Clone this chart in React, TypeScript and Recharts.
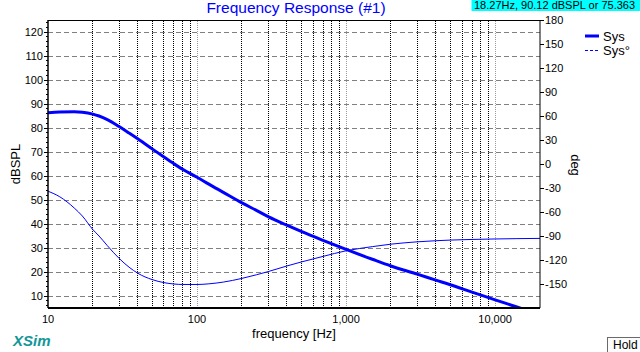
import React from 'react';
import { LineChart, Line, XAxis, YAxis, ReferenceLine } from 'recharts';

// frequency points (Hz) and the two traces
const freqs = [10, 12, 15, 17, 20, 22, 25, 30, 35, 40, 50, 60, 70, 80, 100, 120, 150, 200, 250, 300, 400, 500, 700, 1000, 1500, 2000, 3000, 4000, 5000, 7000, 10000, 14000, 20000];
const sysDb = [86.4, 86.7, 86.8, 86.6, 85.8, 85.0, 83.5, 80.6, 77.9, 75.5, 71.3, 67.9, 65.1, 62.8, 59.5, 56.6, 53.2, 48.8, 45.7, 43.1, 39.5, 36.9, 33.2, 29.4, 25.3, 22.5, 19.1, 16.6, 14.7, 11.6, 8.4, 5.4, 2.2];
const sysDeg = [-34, -41, -55, -65, -82, -90, -102, -118, -129, -136.5, -144.5, -148.3, -150, -150.6, -150.6, -149.8, -147.6, -143, -138.5, -134.5, -127.5, -122.5, -115.5, -108.5, -103.3, -100.2, -97.3, -95.9, -95.1, -94.3, -93.7, -93.3, -93];

const freqTicks = [10, 100, 1000, 10000];
const minorFreqGrid = [20, 30, 40, 50, 60, 70, 80, 90, 200, 300, 400, 500, 600, 700, 800, 900, 2000, 3000, 4000, 5000, 6000, 7000, 8000, 9000];
const decadeGrid = [100, 1000, 10000];
const dbGrid = [10, 20, 30, 40, 50, 60, 70, 80, 90, 100, 110, 120];
const dbAxisTicks = [6, 8, 10, 12, 14, 16, 18, 20, 22, 24, 26, 28, 30, 32, 34, 36, 38, 40, 42, 44, 46, 48, 50, 52, 54, 56, 58, 60, 62, 64, 66, 68, 70, 72, 74, 76, 78, 80, 82, 84, 86, 88, 90, 92, 94, 96, 98, 100, 102, 104, 106, 108, 110, 112, 114, 116, 118, 120, 122, 124];
const degTicks = [-150, -120, -90, -60, -30, 0, 30, 60, 90, 120, 150, 180];

const data = freqs.map((f, i) => ({ f, db: sysDb[i], deg: sysDeg[i] }));

const FONT = '"Liberation Sans", Arial, sans-serif';
const BLUE = '#0000ff';

const DbTick = ({ x, y, payload }: any) => {
  const v = payload.value;
  const major = v % 10 === 0;
  return (
    <g>
      <line x1={x - (major ? 4 : 2)} x2={x} y1={y} y2={y} stroke="#000" shapeRendering="crispEdges" />
      {major && (
        <text x={x - 5} y={y} dy={4} textAnchor="end" fontSize={11} fill="#000" fontFamily={FONT}>
          {v}
        </text>
      )}
    </g>
  );
};

const DegTick = ({ x, y, payload }: any) => (
  <g>
    <line x1={x} x2={x + 4} y1={y} y2={y} stroke="#000" shapeRendering="crispEdges" />
    <text x={x + 5} y={y} dy={4} textAnchor="start" fontSize={11} fill="#000" fontFamily={FONT}>
      {payload.value}
    </text>
  </g>
);

const FreqTick = ({ x, y, payload }: any) => (
  <text x={x} y={y} dy={15} textAnchor="middle" fontSize={11} fill="#000" fontFamily={FONT}>
    {payload.value.toLocaleString('en-US')}
  </text>
);

export default function App() {
  return (
    <div style={{ position: 'absolute', left: 0, top: 0, width: 640, height: 352, overflow: 'hidden', background: '#fff', fontFamily: FONT }}>
      <LineChart width={640} height={352} data={data} margin={{ top: 20, right: 40, bottom: 14, left: 8 }}>
        <XAxis
          dataKey="f"
          type="number"
          scale="log"
          domain={[10, 20000]}
          ticks={freqTicks}
          allowDataOverflow
          height={30}
          tickSize={0}
          tickMargin={0}
          interval={0}
          tick={(p: any) => <FreqTick {...p} />}
          axisLine={{ stroke: '#000', strokeWidth: 2 }}
          tickLine={false}
          xAxisId="f"
        />
        <YAxis
          yAxisId="db"
          orientation="left"
          domain={[5, 125]}
          ticks={dbAxisTicks}
          allowDataOverflow
          width={40}
          tickSize={0}
          tickMargin={0}
          interval={0}
          tick={(p: any) => <DbTick {...p} />}
          tickLine={false}
          axisLine={{ stroke: '#000', strokeWidth: 1.5 }}
        />
        <YAxis
          yAxisId="deg"
          orientation="right"
          domain={[-180, 180]}
          ticks={degTicks}
          allowDataOverflow
          width={60}
          tickSize={0}
          tickMargin={0}
          interval={0}
          tick={(p: any) => <DegTick {...p} />}
          tickLine={false}
          axisLine={{ stroke: '#000' }}
        />
        {minorFreqGrid.map((f) => (
          <ReferenceLine key={`v${f}`} x={f} xAxisId="f" yAxisId="db" stroke="#000" strokeDasharray="1 1" shapeRendering="crispEdges" />
        ))}
        {decadeGrid.map((f) => (
          <ReferenceLine key={`d${f}`} x={f} xAxisId="f" yAxisId="db" stroke="#9a9a9a" strokeDasharray="1 1" shapeRendering="crispEdges" />
        ))}
        {dbGrid.map((v) => (
          <ReferenceLine key={`h${v}`} y={v} xAxisId="f" yAxisId="db" stroke="#808080" strokeDasharray="5 3" shapeRendering="crispEdges" />
        ))}
        <ReferenceLine y={125} xAxisId="f" yAxisId="db" stroke="#000" shapeRendering="crispEdges" />
        <Line xAxisId="f" yAxisId="deg" dataKey="deg" type="monotone" stroke={BLUE} strokeWidth={1} dot={false} isAnimationActive={false} />
        <Line xAxisId="f" yAxisId="db" dataKey="db" type="monotone" stroke={BLUE} strokeWidth={3} dot={false} isAnimationActive={false} />
      </LineChart>

      <svg width={640} height={352} style={{ position: 'absolute', left: 0, top: 0, pointerEvents: 'none' }}>
        <text x={296} y={13} textAnchor="middle" fontSize={15.5} fill={BLUE} fontFamily={FONT}>
          Frequency Response (#1)
        </text>
        <rect x={471.5} y={0} width={170} height={11} fill="#00ffff" />
        <text x={474} y={8.5} fontSize={11} fill="#000" fontFamily={FONT}>
          18.27Hz, 90.12 dBSPL or 75.363
        </text>
        <text transform="translate(20,164) rotate(-90)" textAnchor="middle" fontSize={13} fill="#000" fontFamily={FONT}>
          dBSPL
        </text>
        <text transform="translate(571,165) rotate(90)" textAnchor="middle" fontSize={13} fill="#000" fontFamily={FONT}>
          deg
        </text>
        <text x={294} y={338} textAnchor="middle" fontSize={13} fill="#000" fontFamily={FONT}>
          frequency [Hz]
        </text>
        <text x={13} y={346} fontSize={15} fontWeight="bold" fontStyle="italic" fill="#129696" fontFamily={FONT}>
          XSim
        </text>
        <line x1={585} x2={599} y1={36} y2={36} stroke={BLUE} strokeWidth={3} />
        <text x={603} y={40.5} fontSize={13} fill="#000" fontFamily={FONT}>Sys</text>
        <line x1={585} x2={599} y1={50.5} y2={50.5} stroke={BLUE} strokeWidth={1} strokeDasharray="3 2" />
        <text x={603} y={54.5} fontSize={13} fill="#000" fontFamily={FONT}>Sys°</text>
      </svg>

      <div
        style={{
          position: 'absolute',
          left: 607,
          top: 337,
          width: 40,
          height: 16,
          background: '#fcfcfc',
          borderTop: '1px solid #6a6a6a',
          borderLeft: '1px solid #6a6a6a',
          fontSize: 12,
          lineHeight: '15px',
          paddingLeft: 5,
          boxSizing: 'border-box',
          color: '#000',
        }}
      >
        Hold
      </div>
    </div>
  );
}
